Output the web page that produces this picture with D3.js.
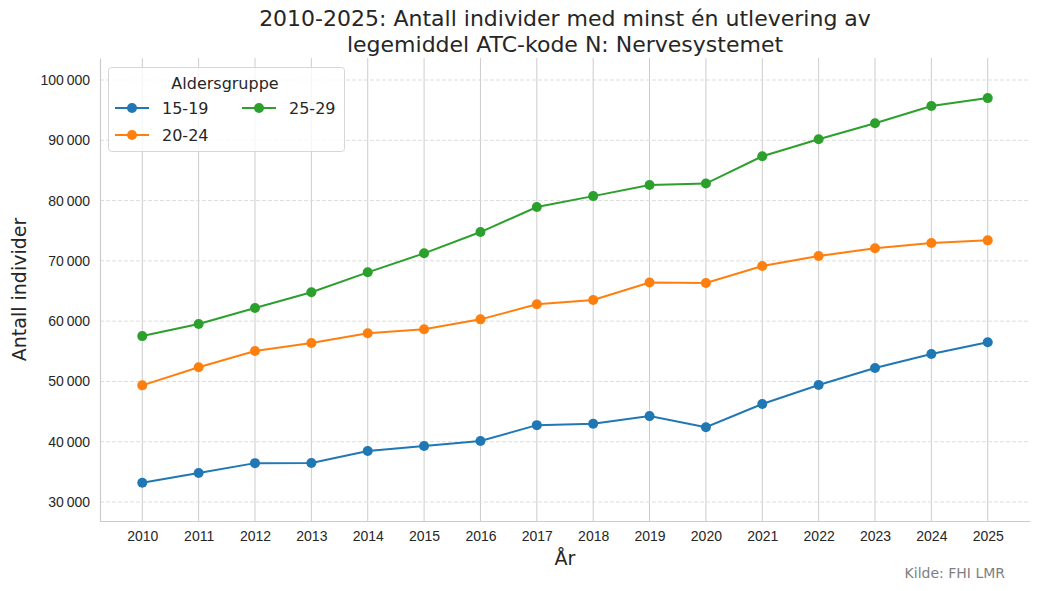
<!DOCTYPE html>
<html>
<head>
<meta charset="utf-8">
<script src="https://cdn.jsdelivr.net/npm/d3@7"></script>
<style>
  body { margin: 0; background: #fff; }
  svg { font-family: "DejaVu Sans", sans-serif; }
</style>
</head>
<body>
<svg id="chart" width="1039" height="591"></svg>
<script>
// Data
const years = [2010, 2011, 2012, 2013, 2014, 2015, 2016, 2017, 2018, 2019, 2020, 2021, 2022, 2023, 2024, 2025];
const groups = ["15-19", "20-24", "25-29"];
const values15_19 = [33200, 34800, 36450, 36480, 38450, 39300, 40120, 42750, 42980, 44250, 42400, 46250, 49400, 52230, 54550, 56500];
const values20_24 = [49350, 52350, 55050, 56380, 57980, 58650, 60300, 62800, 63500, 66420, 66320, 69150, 70800, 72080, 72960, 73400];
const values25_29 = [57520, 59530, 62180, 64800, 68100, 71250, 74780, 78930, 80740, 82580, 82820, 87350, 90170, 92820, 95680, 97000];
const yTicks = [30000, 40000, 50000, 60000, 70000, 80000, 90000, 100000];
const colors = ["#1f77b4", "#ff7f0e", "#2ca02c"];

const series = [values15_19, values20_24, values25_29].map((vals, i) => ({
    name: groups[i],
    color: colors[i],
    points: years.map((y, j) => ({ year: y, value: vals[j] }))
}));

const margin = { top: 58, right: 9, bottom: 70, left: 100 };
const width = 1039 - margin.left - margin.right;
const height = 591 - margin.top - margin.bottom;

const svg = d3.select("#chart");
const g = svg.append("g")
    .attr("transform", "translate(" + margin.left + "," + margin.top + ")");

const x = d3.scaleLinear()
    .domain([2009.25, 2025.75])
    .range([0, width]);

const y = d3.scaleLinear()
    .domain([26850, 103650])
    .range([height, 0]);

// Grid lines
g.append("g")
    .selectAll("line")
    .data(years)
    .enter().append("line")
    .attr("x1", d => x(d)).attr("x2", d => x(d))
    .attr("y1", 0).attr("y2", height)
    .attr("stroke", "#cccccc")
    .attr("stroke-width", 1);

g.append("g")
    .selectAll("line")
    .data(yTicks)
    .enter().append("line")
    .attr("x1", 0).attr("x2", width)
    .attr("y1", d => y(d)).attr("y2", d => y(d))
    .attr("stroke", "#dddddd")
    .attr("stroke-width", 1)
    .attr("stroke-dasharray", "4,2");

// Axes
const fmt = d => d3.format(",")(d).replace(/,/g, "\u2009");

const xAxis = g.append("g")
    .attr("transform", "translate(0," + height + ")")
    .call(d3.axisBottom(x).tickValues(years).tickFormat(d3.format("d")).tickSize(0).tickPadding(10));

const yAxis = g.append("g")
    .call(d3.axisLeft(y).tickValues(yTicks).tickFormat(fmt).tickSize(0).tickPadding(10));

[xAxis, yAxis].forEach(ax => {
    ax.select(".domain").attr("stroke", "#cccccc").attr("stroke-width", 1.2);
    ax.selectAll("text").attr("fill", "#262626").style("font-size", "14px");
});

// Lines and points
const line = d3.line()
    .x(d => x(d.year))
    .y(d => y(d.value));

series.forEach(s => {
    g.append("path")
        .datum(s.points)
        .attr("fill", "none")
        .attr("stroke", s.color)
        .attr("stroke-width", 2)
        .attr("d", line);

    g.selectAll(".dot-" + s.name)
        .data(s.points)
        .enter().append("circle")
        .attr("cx", d => x(d.year))
        .attr("cy", d => y(d.value))
        .attr("r", 5)
        .attr("fill", s.color);
});

// Title
const title = svg.append("text")
    .attr("x", margin.left + width / 2)
    .attr("text-anchor", "middle")
    .attr("fill", "#262626")
    .style("font-size", "22px");
title.append("tspan").attr("x", margin.left + width / 2).attr("y", 26)
    .text("2010-2025: Antall individer med minst én utlevering av");
title.append("tspan").attr("x", margin.left + width / 2).attr("y", 52)
    .text("legemiddel ATC-kode N: Nervesystemet");

// Axis labels
svg.append("text")
    .attr("x", margin.left + width / 2)
    .attr("y", 565)
    .attr("text-anchor", "middle")
    .attr("fill", "#262626")
    .style("font-size", "19px")
    .text("År");

svg.append("text")
    .attr("transform", "translate(26," + (margin.top + height / 2) + ") rotate(-90)")
    .attr("text-anchor", "middle")
    .attr("fill", "#262626")
    .style("font-size", "19px")
    .text("Antall individer");

// Source
svg.append("text")
    .attr("x", 1005)
    .attr("y", 578)
    .attr("text-anchor", "end")
    .attr("fill", "#808080")
    .style("font-size", "14px")
    .text("Kilde: FHI LMR");

// Legend
const legend = svg.append("g").attr("transform", "translate(108,67)");
legend.append("rect")
    .attr("x", 0.5).attr("y", 0.5)
    .attr("width", 236).attr("height", 84)
    .attr("rx", 3)
    .attr("fill", "#ffffff")
    .attr("fill-opacity", 0.8)
    .attr("stroke", "#d6d6d6");
legend.append("text")
    .attr("x", 117).attr("y", 22)
    .attr("text-anchor", "middle")
    .attr("fill", "#262626")
    .style("font-size", "16px")
    .text("Aldersgruppe");

const legendPos = [[7, 41], [7, 68], [134, 41]];
series.forEach((s, i) => {
    const item = legend.append("g")
        .attr("transform", "translate(" + legendPos[i][0] + "," + legendPos[i][1] + ")");
    item.append("line")
        .attr("x1", 0).attr("x2", 34)
        .attr("stroke", s.color).attr("stroke-width", 2);
    item.append("circle")
        .attr("cx", 17).attr("r", 5).attr("fill", s.color);
    item.append("text")
        .attr("x", 47).attr("dy", "0.35em")
        .attr("fill", "#262626")
        .style("font-size", "16px")
        .text(s.name);
});
</script>
</body>
</html>
